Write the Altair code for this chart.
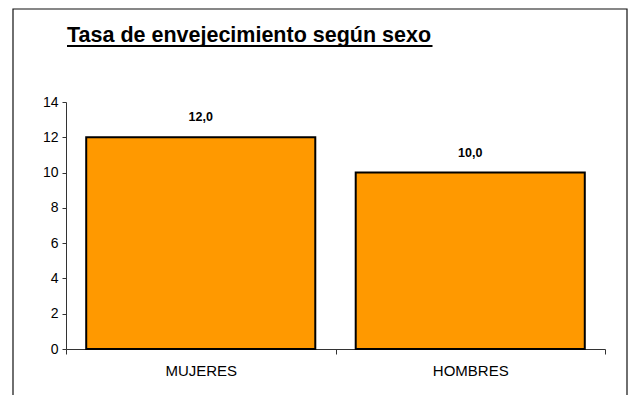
import altair as alt
import pandas as pd

categories = ["MUJERES", "HOMBRES"]
values = [12.0, 10.0]
value_labels = ["12,0", "10,0"]
y_ticks = [0, 2, 4, 6, 8, 10, 12, 14]
title_text = "Tasa de envejecimiento según sexo"

df = pd.DataFrame({"sexo": categories, "tasa": values, "etiqueta": value_labels})
one = pd.DataFrame({"t": [title_text]})

FONT = "Liberation Sans"
AXIS_COLOR = "#333333"
TITLE_SIZE = 21.5
PAD_INNER = 0.15
PAD_OUTER = PAD_INNER / 2
PLOT_W, PLOT_H = 539, 247
STEP = PLOT_W / (len(categories) - PAD_INNER + 2 * PAD_OUTER)
GAP = STEP * PAD_OUTER  # half the space between bars, in px

x = alt.X(
    "sexo:N",
    sort=categories,
    title=None,
    scale=alt.Scale(paddingInner=PAD_INNER, paddingOuter=PAD_OUTER),
    axis=alt.Axis(
        labelAngle=0,
        bandPosition=1 + (2 * PAD_OUTER) / (1 - PAD_INNER),
        tickOffset=-GAP,
        labelOffset=GAP,
        tickExtra=True,
        tickSize=5,
        labelPadding=9,
        domainColor=AXIS_COLOR,
        tickColor=AXIS_COLOR,
        labelColor="black",
        labelFont=FONT,
        labelFontSize=15,
    ),
)
y = alt.Y(
    "tasa:Q",
    title=None,
    scale=alt.Scale(domain=[0, 14], nice=False),
    axis=alt.Axis(
        values=y_ticks,
        grid=False,
        tickSize=4,
        labelPadding=4,
        labelOverlap=False,
        domainColor=AXIS_COLOR,
        tickColor=AXIS_COLOR,
        labelColor="black",
        labelFont=FONT,
        labelFontSize=14,
    ),
)

frame = alt.Chart(one).mark_rect(
    fill="white", fillOpacity=0, stroke="#111111", strokeWidth=1.2
).encode(
    x=alt.value(-53), x2=alt.value(561), y=alt.value(-93), y2=alt.value(310)
)

title = alt.Chart(one).mark_text(
    align="left", baseline="alphabetic", font=FONT, fontSize=TITLE_SIZE,
    fontWeight="bold", color="black"
).encode(text="t:N", x=alt.value(1), y=alt.value(-60))

underline = alt.Chart(one).mark_rule(color="black", strokeWidth=2).encode(
    x=alt.value(1), x2=alt.value(1 + 17.0 * TITLE_SIZE), y=alt.value(-56)
)

bars = alt.Chart(df).mark_bar(
    color="#FF9900", stroke="black", strokeWidth=2
).encode(x=x, y=y)

labels = alt.Chart(df).mark_text(
    baseline="alphabetic", dy=-16, font=FONT, fontSize=12.5,
    fontWeight="bold", color="black"
).encode(x=x, y=y, text="etiqueta:N")

chart = alt.layer(frame, title, underline, bars, labels).properties(
    width=PLOT_W,
    height=PLOT_H,
    padding={"left": 58, "top": 94, "right": 23, "bottom": 46},
    autosize=alt.AutoSizeParams(type="none"),
    background="white",
).configure_view(stroke=None)

chart.save("out.html", embed_options={"renderer": "svg", "actions": False})
